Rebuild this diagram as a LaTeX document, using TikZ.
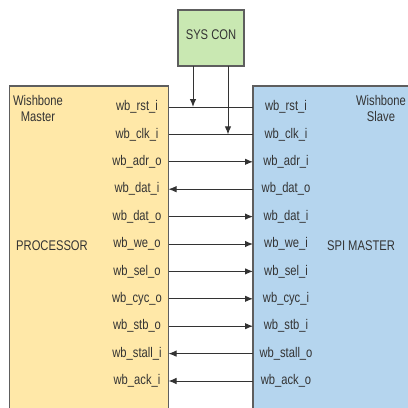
\documentclass[tikz,border=0pt]{standalone}
\usepackage{fontspec}
\setmainfont[FakeStretch=0.8]{Liberation Sans}
\usetikzlibrary{arrows.meta}
\definecolor{mfill}{HTML}{FFE8A8}
\definecolor{sfill}{HTML}{B5D5EE}
\definecolor{gfill}{HTML}{C9E8B2}
\definecolor{edge}{HTML}{5E5E5E}
\definecolor{txt}{HTML}{333333}
\tikzset{
  blk/.style={draw=edge, line width=1.1pt},
  lbl/.style={font=\fontsize{14}{16}\selectfont, text=txt, inner sep=0pt},
  wire/.style={draw=black!80, line width=1pt},
  arr/.style={wire, -{Latex[length=8pt,width=6.5pt]}}
}
\begin{document}
\begin{tikzpicture}[x=1pt,y=-1pt]
\useasboundingbox (0,0) rectangle (408,408);
\begin{scope}
\clip (0,0) rectangle (408,408);
\path[blk, fill=mfill] (9.5,86) rectangle (168.5,412);
\path[blk, fill=sfill] (253,86) rectangle (420,412);
\path[blk, fill=gfill] (178,10) rectangle (244,66);
\end{scope}
\node[lbl] (sys) at (211,35) {SYS CON};
\node[lbl, align=center] (wm) at (38,108) {Wishbone\\Master};
\node[lbl, align=center] (ws) at (381,108) {Wishbone\\Slave};
\node[lbl] (proc) at (52,246) {PROCESSOR};
\node[lbl] (spi) at (361,246) {SPI MASTER};
\foreach \i/\m/\s in {0/wb\_rst\_i/wb\_rst\_i,1/wb\_clk\_i/wb\_clk\_i,2/wb\_adr\_o/wb\_adr\_i,3/wb\_dat\_i/wb\_dat\_o,4/wb\_dat\_o/wb\_dat\_i,5/wb\_we\_o/wb\_we\_i,6/wb\_sel\_o/wb\_sel\_i,7/wb\_cyc\_o/wb\_cyc\_i,8/wb\_stb\_o/wb\_stb\_i,9/wb\_stall\_i/wb\_stall\_o,10/wb\_ack\_i/wb\_ack\_o}{
  \pgfmathsetmacro{\yy}{107+27.4*\i}
  \node[lbl] (m\i) at (137,\yy) {\m};
  \node[lbl] (s\i) at (286,\yy) {\s};
  \coordinate (ml\i) at (168.5,\yy);
  \coordinate (sl\i) at (253,\yy);
}
\draw[wire] (ml0) -- (sl0);
\draw[wire] (ml1) -- (sl1);
\foreach \i in {2,4,5,6,7,8}{ \draw[arr] (ml\i) -- (sl\i); }
\foreach \i in {3,9,10}{ \draw[arr] (sl\i) -- (ml\i); }
\coordinate (v1) at (193,66);
\coordinate (v2) at (228,66);
\draw[arr] (v1) -- (v1 |- ml0);
\draw[arr] (v2) -- (v2 |- ml1);
\end{tikzpicture}
\end{document}
